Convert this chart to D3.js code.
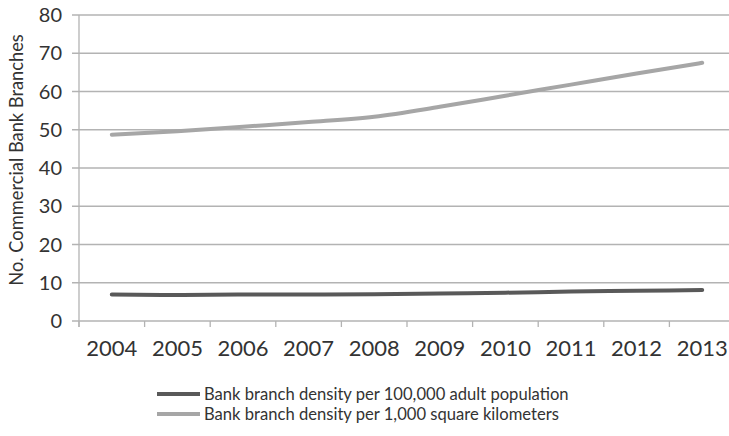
<!DOCTYPE html>
<html>
<head>
<meta charset="utf-8">
<script src="https://cdn.jsdelivr.net/npm/d3@7"></script>
<style>
  html, body { margin: 0; padding: 0; background: #fff; }
  svg { display: block; }
  text { font-family: Lato, "Open Sans", sans-serif; fill: #333333; }
</style>
</head>
<body>
<svg id="chart" width="729" height="436"></svg>
<script>
const years = ["2004","2005","2006","2007","2008","2009","2010","2011","2012","2013"];
const perAdults = [6.9, 6.8, 6.9, 6.9, 7.0, 7.2, 7.4, 7.7, 7.9, 8.1];
const perSqKm = [48.7, 49.6, 50.8, 52.0, 53.4, 56.0, 58.9, 61.8, 64.7, 67.5];
const yTicks = [0, 10, 20, 30, 40, 50, 60, 70, 80];
const seriesNames = ["Bank branch density per 100,000 adult population", "Bank branch density per 1,000 square kilometers"];
const yTitle = "No. Commercial Bank Branches";

const svg = d3.select("#chart");
const mLeft = 79, mRight = 735, mTop = 15, mBottom = 321;
const x = d3.scaleBand().domain(years).range([mLeft, mRight]).padding(0);
const y = d3.scaleLinear().domain([0, 80]).range([mBottom, mTop]);

const gridColor = "#b3b3b3";

// gridlines
svg.append("g").selectAll("line").data(yTicks).join("line")
  .attr("x1", mLeft - 7).attr("x2", mRight)
  .attr("y1", d => y(d)).attr("y2", d => y(d))
  .attr("stroke", gridColor).attr("stroke-width", 1.3);

// y axis line
svg.append("line").attr("x1", mLeft).attr("x2", mLeft)
  .attr("y1", mTop).attr("y2", mBottom + 6)
  .attr("stroke", gridColor).attr("stroke-width", 1.3);

// x tick marks at band boundaries
const bounds = years.map(d => x(d)).concat([mRight]);
svg.append("g").selectAll("line").data(bounds).join("line")
  .attr("x1", d => d).attr("x2", d => d)
  .attr("y1", mBottom).attr("y2", mBottom + 6)
  .attr("stroke", gridColor).attr("stroke-width", 1.3);

// y tick labels
svg.append("g").selectAll("text").data(yTicks).join("text")
  .attr("x", 62).attr("y", d => y(d)).attr("dy", "0.36em")
  .attr("text-anchor", "end").attr("font-size", 20)
  .text(d => d);

// x tick labels
svg.append("g").selectAll("text").data(years).join("text")
  .attr("x", d => x(d) + x.bandwidth() / 2).attr("y", 356)
  .attr("text-anchor", "middle").attr("font-size", 22)
  .text(d => d);

// y title
svg.append("text")
  .attr("transform", `translate(23, ${(mTop + mBottom) / 2 - 8}) rotate(-90)`)
  .attr("text-anchor", "middle").attr("font-size", 18.3)
  .text(yTitle);

const line = d3.line()
  .x((d, i) => x(years[i]) + x.bandwidth() / 2)
  .y(d => y(d))
  .curve(d3.curveMonotoneX);

const colors = ["#595959", "#a6a6a6"];
[perAdults, perSqKm].forEach((vals, i) => {
  svg.append("path").datum(vals)
    .attr("d", line)
    .attr("fill", "none")
    .attr("stroke", colors[i])
    .attr("stroke-width", 4)
    .attr("stroke-linecap", "round");
});

// legend
const legY = [394, 414];
seriesNames.forEach((name, i) => {
  svg.append("line")
    .attr("x1", 157).attr("x2", 200)
    .attr("y1", legY[i]).attr("y2", legY[i])
    .attr("stroke", colors[i]).attr("stroke-width", 4);
  svg.append("text")
    .attr("x", 204).attr("y", legY[i]).attr("dy", "0.36em")
    .attr("font-size", 16.6)
    .text(name);
});
</script>
</body>
</html>
